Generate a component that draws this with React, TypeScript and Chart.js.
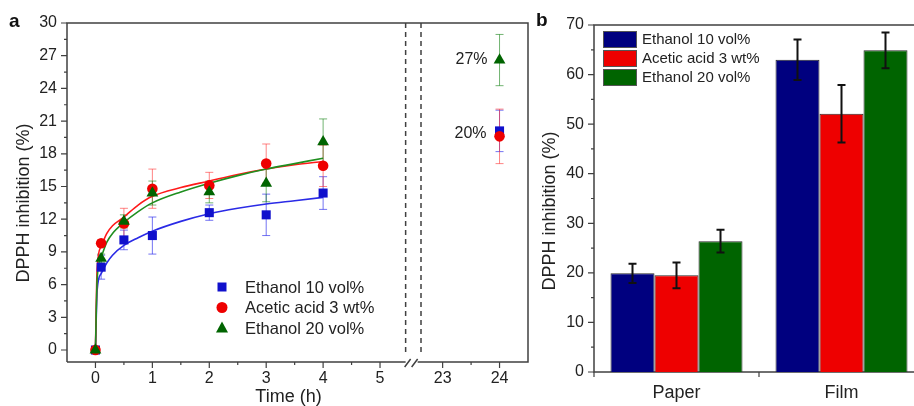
import React, { useEffect, useRef } from "react";
import { Chart, registerables } from "chart.js";
Chart.register(...registerables);

const FONT = "'Liberation Sans', Arial, Helvetica, sans-serif";

// ---------------- Panel a data ----------------
const timeHours = [0, 0.1, 0.5, 1, 2, 3, 4, 24];
const ethanol10 = [0, 7.6, 10.1, 10.5, 12.6, 12.4, 14.4, 20.1];
const ethanol10Err = [0, 1.1, 0.9, 1.7, 0.7, 1.9, 1.5, 1.9];
const acetic3 = [0, 9.8, 11.6, 14.8, 15.1, 17.1, 16.9, 19.6];
const acetic3Err = [0, 0.3, 1.4, 1.8, 1.2, 1.8, 1.9, 2.5];
const ethanol20 = [0, 8.4, 11.8, 14.4, 14.5, 15.3, 19.1, 26.6];
const ethanol20Err = [0, 0.4, 0.6, 1.1, 1.0, 1.7, 2.1, 2.35];

const fitHours = [0, 0.03, 0.1, 0.2, 0.3, 0.5, 0.75, 1, 1.5, 2, 2.5, 3, 3.5, 4];
const fitEthanol10 = [0, 5.5, 7.0, 8.0, 8.7, 9.6, 10.3, 10.9, 11.8, 12.5, 13.0, 13.4, 13.7, 14.0];
const fitAcetic3 = [0, 7.5, 9.5, 10.7, 11.4, 12.2, 13.3, 14.1, 14.9, 15.5, 16.1, 16.6, 17.0, 17.3];
const fitEthanol20 = [0, 6.5, 8.5, 9.9, 10.7, 11.7, 12.7, 13.5, 14.5, 15.3, 16.0, 16.6, 17.1, 17.6];

const seriesNames = ["Ethanol 10 vol%", "Acetic acid 3 wt%", "Ethanol 20 vol%"];
const timeMajorTicks = [0, 1, 2, 3, 4, 5, 23, 24];
const timeMinorTicks = [0.5, 1.5, 2.5, 3.5, 4.5, 23.5];
const inhibitionTicksA = [0, 3, 6, 9, 12, 15, 18, 21, 24, 27, 30];
const dayLabels = ["27%", "20%"];

// ---------------- Panel b data ----------------
const barGroups = ["Paper", "Film"];
const barEthanol10 = [19.9, 63.0];
const barEthanol10Err = [1.95, 4.1];
const barAcetic3 = [19.5, 52.1];
const barAcetic3Err = [2.6, 5.8];
const barEthanol20 = [26.4, 64.9];
const barEthanol20Err = [2.3, 3.6];
const inhibitionTicksB = [0, 10, 20, 30, 40, 50, 60, 70];

// ---------------- axis break (panel a) ----------------
const BREAK_AT = 5.5;
const HIDDEN_SPAN = 16.9;
const toAxis = (h: number) => (h > BREAK_AT ? h - HIDDEN_SPAN : h);
const fromAxis = (c: number) => (c > BREAK_AT + 0.3 ? c + HIDDEN_SPAN : c);
const BREAK_LINES = [5.45, 5.72];

const AXIS = "#404040";
const BLUE = "#1010cc";
const RED = "#ee0000";
const GREEN = "#006400";

function drawTitleV(ctx: CanvasRenderingContext2D, text: string, x: number, y: number) {
  ctx.save();
  ctx.translate(x, y);
  ctx.rotate(-Math.PI / 2);
  ctx.font = `18px ${FONT}`;
  ctx.fillStyle = "#222";
  ctx.textAlign = "center";
  ctx.textBaseline = "middle";
  ctx.fillText(text, 0, 0);
  ctx.restore();
}

function drawMarker(ctx: CanvasRenderingContext2D, kind: string, x: number, y: number, color: string) {
  ctx.save();
  ctx.fillStyle = color;
  ctx.beginPath();
  if (kind === "rect") {
    ctx.rect(x - 4.5, y - 4.5, 9, 9);
  } else if (kind === "circle") {
    ctx.arc(x, y, 5.5, 0, Math.PI * 2);
  } else {
    ctx.moveTo(x, y - 6.5);
    ctx.lineTo(x + 6, y + 4.5);
    ctx.lineTo(x - 6, y + 4.5);
    ctx.closePath();
  }
  ctx.fill();
  ctx.restore();
}

const panelAPlugin = {
  id: "panelA",
  beforeDatasetsDraw(chart: any) {
    const { ctx, chartArea: a, scales } = chart;
    const xs = scales.x;
    const ys = scales.y;
    const xb1 = xs.getPixelForValue(BREAK_LINES[0]);
    const xb2 = xs.getPixelForValue(BREAK_LINES[1]);
    ctx.save();
    ctx.strokeStyle = AXIS;
    ctx.lineWidth = 1.5;
    ctx.beginPath();
    ctx.moveTo(a.left, a.bottom);
    ctx.lineTo(a.left, a.top);
    ctx.lineTo(a.right, a.top);
    ctx.lineTo(a.right, a.bottom);
    ctx.lineTo(xb1 + 12, a.bottom);
    ctx.moveTo(xb1, a.bottom);
    ctx.lineTo(a.left, a.bottom);
    ctx.moveTo(xb1 - 1, a.bottom + 5);
    ctx.lineTo(xb1 + 5, a.bottom - 3);
    ctx.moveTo(xb1 + 6, a.bottom + 5);
    ctx.lineTo(xb1 + 12, a.bottom - 3);
    ctx.stroke();
    ctx.lineWidth = 1.2;
    ctx.beginPath();
    inhibitionTicksA.forEach((v) => {
      const y = ys.getPixelForValue(v);
      ctx.moveTo(a.left - 6, y);
      ctx.lineTo(a.left, y);
      if (v < 30) {
        const ym = ys.getPixelForValue(v + 1.5);
        ctx.moveTo(a.left - 3, ym);
        ctx.lineTo(a.left, ym);
      }
    });
    timeMajorTicks.forEach((h) => {
      const x = xs.getPixelForValue(toAxis(h));
      ctx.moveTo(x, a.bottom);
      ctx.lineTo(x, a.bottom + 6);
    });
    timeMinorTicks.forEach((h) => {
      const x = xs.getPixelForValue(toAxis(h));
      ctx.moveTo(x, a.bottom);
      ctx.lineTo(x, a.bottom + 3);
    });
    ctx.stroke();
    ctx.setLineDash([5, 4]);
    ctx.lineWidth = 1.5;
    ctx.beginPath();
    [xb1, xb2].forEach((x) => {
      ctx.moveTo(x, a.top);
      ctx.lineTo(x, a.bottom - 7);
    });
    ctx.stroke();
    ctx.setLineDash([]);
    const errSets = [
      { vals: ethanol10, errs: ethanol10Err, color: "rgba(40,40,235,0.65)" },
      { vals: acetic3, errs: acetic3Err, color: "rgba(255,50,50,0.6)" },
      { vals: ethanol20, errs: ethanol20Err, color: "rgba(20,130,20,0.6)" },
    ];
    ctx.lineWidth = 1;
    errSets.forEach((s) => {
      ctx.strokeStyle = s.color;
      ctx.beginPath();
      timeHours.forEach((h, i) => {
        if (!s.errs[i]) return;
        const x = xs.getPixelForValue(toAxis(h));
        const y1 = ys.getPixelForValue(s.vals[i] - s.errs[i]);
        const y2 = ys.getPixelForValue(s.vals[i] + s.errs[i]);
        ctx.moveTo(x, y1);
        ctx.lineTo(x, y2);
        ctx.moveTo(x - 4, y1);
        ctx.lineTo(x + 4, y1);
        ctx.moveTo(x - 4, y2);
        ctx.lineTo(x + 4, y2);
      });
      ctx.stroke();
    });
    ctx.restore();
  },
  afterDraw(chart: any) {
    const { ctx, chartArea: a, scales } = chart;
    const xs = scales.x;
    const ys = scales.y;
    ctx.save();
    ctx.font = `bold 19px ${FONT}`;
    ctx.fillStyle = "#111";
    ctx.textAlign = "left";
    ctx.textBaseline = "middle";
    ctx.fillText("a", 9, 22);
    drawTitleV(ctx, "DPPH inhibition (%)", 24, 203);
    ctx.font = `18px ${FONT}`;
    ctx.fillStyle = "#222";
    ctx.textAlign = "center";
    ctx.textBaseline = "middle";
    ctx.fillText("Time (h)", (a.left + a.right) / 2 - 9, 397);
    const last = timeHours.length - 1;
    const x24 = xs.getPixelForValue(toAxis(timeHours[last]));
    ctx.font = `16px ${FONT}`;
    ctx.textAlign = "right";
    ctx.fillText(dayLabels[0], x24 - 12, ys.getPixelForValue(ethanol20[last]));
    ctx.fillText(dayLabels[1], x24 - 13, ys.getPixelForValue((ethanol10[last] + acetic3[last]) / 2));
    const kinds = ["rect", "circle", "triangle"];
    const cols = [BLUE, RED, GREEN];
    ctx.textAlign = "left";
    ctx.font = `16.5px ${FONT}`;
    seriesNames.forEach((n, i) => {
      const y = 287 + i * 20.5;
      drawMarker(ctx, kinds[i], 222, y, cols[i]);
      ctx.fillStyle = "#222";
      ctx.fillText(n, 245, y + 1);
    });
    ctx.restore();
  },
};

const panelBPlugin = {
  id: "panelB",
  beforeDatasetsDraw(chart: any) {
    const { ctx, chartArea: a, scales } = chart;
    const ys = scales.y;
    const xs = scales.x;
    ctx.save();
    ctx.strokeStyle = AXIS;
    ctx.lineWidth = 1.5;
    ctx.strokeRect(a.left, a.top, a.right - a.left, a.bottom - a.top);
    ctx.lineWidth = 1.2;
    ctx.beginPath();
    inhibitionTicksB.forEach((v) => {
      const y = ys.getPixelForValue(v);
      ctx.moveTo(a.left - 6, y);
      ctx.lineTo(a.left, y);
      if (v < 70) {
        const ym = ys.getPixelForValue(v + 5);
        ctx.moveTo(a.left - 3, ym);
        ctx.lineTo(a.left, ym);
      }
    });
    const p0 = xs.getPixelForValue(0);
    const p1 = xs.getPixelForValue(1);
    [a.left, (p0 + p1) / 2, a.right].forEach((x) => {
      ctx.moveTo(x, a.bottom);
      ctx.lineTo(x, a.bottom + 5);
    });
    ctx.stroke();
    ctx.restore();
  },
  afterDatasetsDraw(chart: any) {
    const { ctx, scales } = chart;
    const ys = scales.y;
    const errs = [barEthanol10Err, barAcetic3Err, barEthanol20Err];
    ctx.save();
    ctx.strokeStyle = "#111";
    ctx.lineWidth = 2;
    chart.data.datasets.forEach((ds: any, di: number) => {
      const meta = chart.getDatasetMeta(di);
      meta.data.forEach((el: any, j: number) => {
        const v = ds.data[j];
        const e = errs[di][j];
        const y1 = ys.getPixelForValue(v - e);
        const y2 = ys.getPixelForValue(v + e);
        const x = el.x;
        ctx.beginPath();
        ctx.moveTo(x, y1);
        ctx.lineTo(x, y2);
        ctx.moveTo(x - 4, y1);
        ctx.lineTo(x + 4, y1);
        ctx.moveTo(x - 4, y2);
        ctx.lineTo(x + 4, y2);
        ctx.stroke();
      });
    });
    ctx.restore();
  },
  afterDraw(chart: any) {
    const { ctx, chartArea: a } = chart;
    ctx.save();
    ctx.font = `bold 19px ${FONT}`;
    ctx.fillStyle = "#111";
    ctx.textAlign = "left";
    ctx.textBaseline = "middle";
    ctx.fillText("b", 6, 21);
    drawTitleV(ctx, "DPPH inhibition (%)", 20, 211);
    const cols = chart.data.datasets.map((d: any) => d.backgroundColor);
    ctx.font = `15px ${FONT}`;
    ctx.textAlign = "left";
    ctx.textBaseline = "middle";
    chart.data.datasets.forEach((d: any, i: number) => {
      const top = a.top + 6 + i * 19;
      ctx.fillStyle = cols[i];
      ctx.fillRect(a.left + 9, top, 34, 17);
      ctx.strokeStyle = "#555";
      ctx.lineWidth = 1;
      ctx.strokeRect(a.left + 9.5, top + 0.5, 33, 16);
      ctx.fillStyle = "#222";
      ctx.fillText(d.label, a.left + 48, top + 9);
    });
    ctx.restore();
  },
};

function PanelA() {
  const ref = useRef<HTMLCanvasElement>(null);
  useEffect(() => {
    if (!ref.current) return;
    const pts = (ys: number[]) => timeHours.map((h, i) => ({ x: toAxis(h), y: ys[i] }));
    const fit = (ys: number[]) => fitHours.map((h, i) => ({ x: toAxis(h), y: ys[i] }));
    const lineDs = (d: number[], color: string, order: number) => ({
      data: fit(d),
      showLine: true,
      pointRadius: 0,
      borderColor: color,
      borderWidth: 1.6,
      cubicInterpolationMode: "monotone",
      fill: false,
      order,
    });
    const chart = new Chart(ref.current, {
      type: "scatter",
      data: {
        datasets: [
          { label: seriesNames[0], data: pts(ethanol10), pointStyle: "rect", pointRadius: 6.4, backgroundColor: BLUE, borderColor: BLUE, borderWidth: 0, order: 2 },
          { label: seriesNames[1], data: pts(acetic3), pointStyle: "circle", pointRadius: 5.3, backgroundColor: RED, borderColor: RED, borderWidth: 0, order: 1 },
          { label: seriesNames[2], data: pts(ethanol20), pointStyle: "triangle", pointRadius: 6.8, backgroundColor: GREEN, borderColor: GREEN, borderWidth: 0, order: 0 },
          lineDs(fitEthanol10, "#2a2ae6", 5) as any,
          lineDs(fitAcetic3, "#ff1a1a", 4) as any,
          lineDs(fitEthanol20, "#1f8f1f", 3) as any,
        ],
      },
      options: {
        responsive: false,
        animation: false,
        events: [],
        layout: { padding: { top: 23, right: 17, left: 0, bottom: 0 } },
        plugins: { legend: { display: false }, tooltip: { enabled: false } },
        scales: {
          x: {
            type: "linear",
            min: -0.5,
            max: 7.6,
            grid: { display: false, drawTicks: false },
            border: { display: false },
            afterBuildTicks: (s: any) => {
              s.ticks = [...timeMajorTicks, ...timeMinorTicks]
                .sort((p, q) => p - q)
                .map((h) => ({ value: toAxis(h) }));
            },
            afterFit: (s: any) => {
              s.height = 44;
            },
            ticks: {
              autoSkip: false,
              maxRotation: 0,
              padding: 7,
              color: "#222",
              font: { family: FONT, size: 16 },
              callback: (v: any) => {
                const h = fromAxis(Number(v));
                const r = Math.round(h);
                return Math.abs(h - r) < 1e-6 && timeMajorTicks.includes(r) ? String(r) : "";
              },
            },
          },
          y: {
            min: -1.1,
            max: 30,
            grid: { display: false, drawTicks: false },
            border: { display: false },
            afterBuildTicks: (s: any) => {
              s.ticks = inhibitionTicksA.map((v) => ({ value: v }));
            },
            afterFit: (s: any) => {
              s.width = 67;
            },
            ticks: {
              autoSkip: false,
              padding: 10,
              color: "#222",
              font: { family: FONT, size: 16 },
              callback: (v: any) => String(v),
            },
          },
        },
      },
      plugins: [panelAPlugin],
    } as any);
    return () => chart.destroy();
  }, []);
  return <canvas ref={ref} width={545} height={406} style={{ position: "absolute", left: 0, top: 0 }} />;
}

function PanelB() {
  const ref = useRef<HTMLCanvasElement>(null);
  useEffect(() => {
    if (!ref.current) return;
    const bar = (label: string, d: number[], color: string) => ({
      label,
      data: d,
      backgroundColor: color,
      borderColor: "#2a2a2a",
      borderWidth: 1,
      categoryPercentage: 0.8,
      barPercentage: 1,
    });
    const chart = new Chart(ref.current, {
      type: "bar",
      data: {
        labels: barGroups,
        datasets: [
          bar(seriesNames[0], barEthanol10, "#00007f"),
          bar(seriesNames[1], barAcetic3, "#ee0000"),
          bar(seriesNames[2], barEthanol20, "#006400"),
        ],
      },
      options: {
        responsive: false,
        animation: false,
        events: [],
        layout: { padding: { top: 25, right: 6, left: 0, bottom: 0 } },
        plugins: { legend: { display: false }, tooltip: { enabled: false } },
        scales: {
          x: {
            grid: { display: false, drawTicks: false },
            border: { display: false },
            afterFit: (s: any) => {
              s.height = 34;
            },
            ticks: { padding: 10, color: "#222", font: { family: FONT, size: 18 } },
          },
          y: {
            min: 0,
            max: 70,
            grid: { display: false, drawTicks: false },
            border: { display: false },
            afterBuildTicks: (s: any) => {
              s.ticks = inhibitionTicksB.map((v) => ({ value: v }));
            },
            afterFit: (s: any) => {
              s.width = 64;
            },
            ticks: { padding: 10, color: "#222", font: { family: FONT, size: 16 }, callback: (v: any) => String(v) },
          },
        },
      },
      plugins: [panelBPlugin],
    } as any);
    return () => chart.destroy();
  }, []);
  return <canvas ref={ref} width={400} height={406} style={{ position: "absolute", left: 530, top: 0 }} />;
}

export default function App() {
  return (
    <div
      style={{
        position: "fixed",
        left: 0,
        top: 0,
        width: 914,
        height: 406,
        overflow: "hidden",
        background: "#fff",
      }}
    >
      <PanelA />
      <PanelB />
    </div>
  );
}
